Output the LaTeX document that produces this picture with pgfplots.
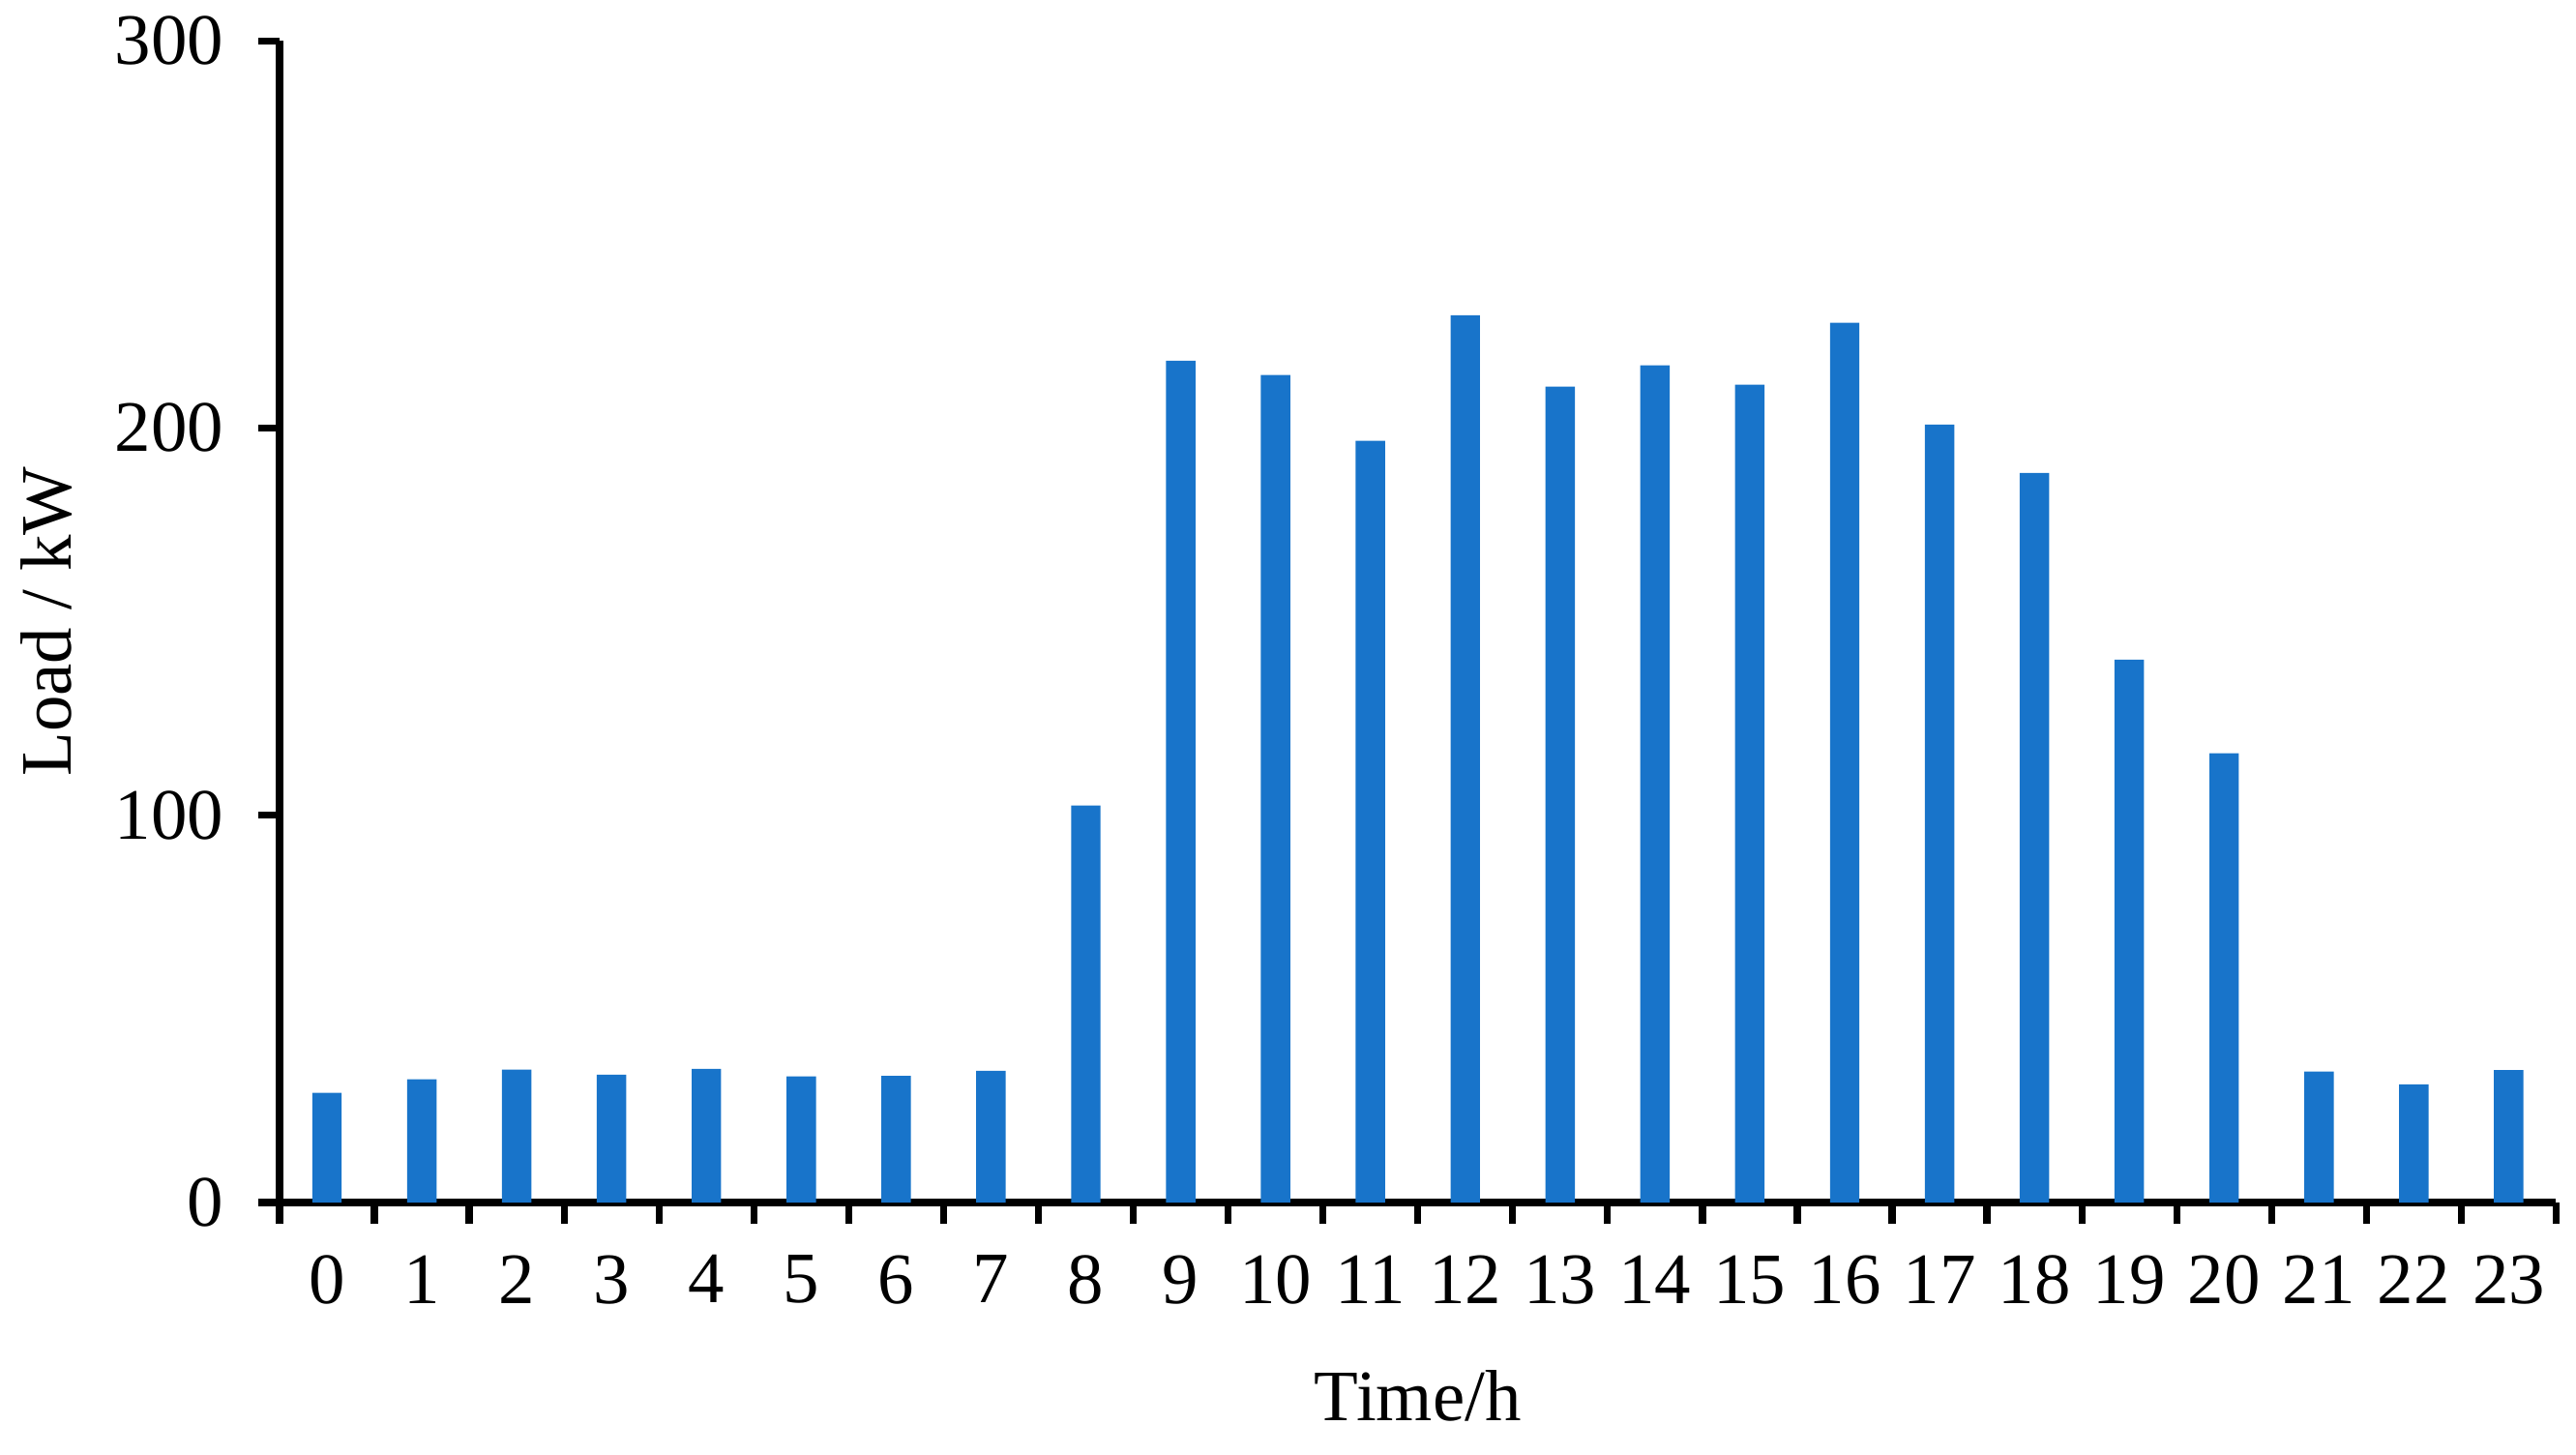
\documentclass[border=0pt]{standalone}
\usepackage{fontspec}
\setmainfont{Liberation Serif}
\usepackage{pgfplots}
\pgfplotsset{compat=1.18}
\definecolor{barblue}{RGB}{24,116,202}

\pgfplotstableread{
h load
0 28.3
1 31.8
2 34.3
3 33.0
4 34.5
5 32.6
6 32.7
7 34.0
8 102.5
9 217.4
10 213.7
11 196.7
12 229.1
13 210.7
14 216.2
15 211.2
16 227.2
17 200.9
18 188.4
19 140.2
20 116.0
21 33.8
22 30.5
23 34.2
}\loadtable

\begin{document}
\begin{tikzpicture}
\path[use as bounding box] (-52.1pt,-46.9pt) rectangle (428.0pt,224.1pt);
\begin{axis}[
  scale only axis,
  width=424.3pt, height=216.5pt,
  xmin=-0.5, xmax=23.5,
  ymin=0, ymax=300,
  axis x line*=bottom, axis y line*=left,
  axis line style={line width=1.3pt},
  tick align=outside,
  xtick={0,...,23},
  xticklabels={0,1,2,3,4,5,6,7,8,9,10,11,12,13,14,15,16,17,18,19,20,21,22,23},
  major x tick style={draw=none},
  minor xtick={-0.5,0.5,...,23.5},
  minor x tick style={line width=1.3pt,black},
  minor tick length=4pt,
  ytick={0,100,200,300},
  yticklabels={0,100,200,300},
  major tick length=4pt,
  y tick style={line width=1.3pt,black},
  tick label style={font=\fontsize{13.5pt}{16pt}\selectfont},
  xticklabel style={yshift=-2.3pt},
  yticklabel style={xshift=-2.9pt},
  label style={font=\fontsize{13.5pt}{16pt}\selectfont},
  xlabel={Time/h},
  ylabel={Load / kW},
  xlabel style={at={(axis description cs:0.5,0)},anchor=center,yshift=-36pt},
  ylabel style={at={(axis description cs:0,0.5)},anchor=center,yshift=43.4pt},
  clip=false,
]
\addplot[ybar, bar width=0.31, fill=barblue, draw=none] table[x=h,y=load] {\loadtable};
\end{axis}
\end{tikzpicture}
\end{document}
